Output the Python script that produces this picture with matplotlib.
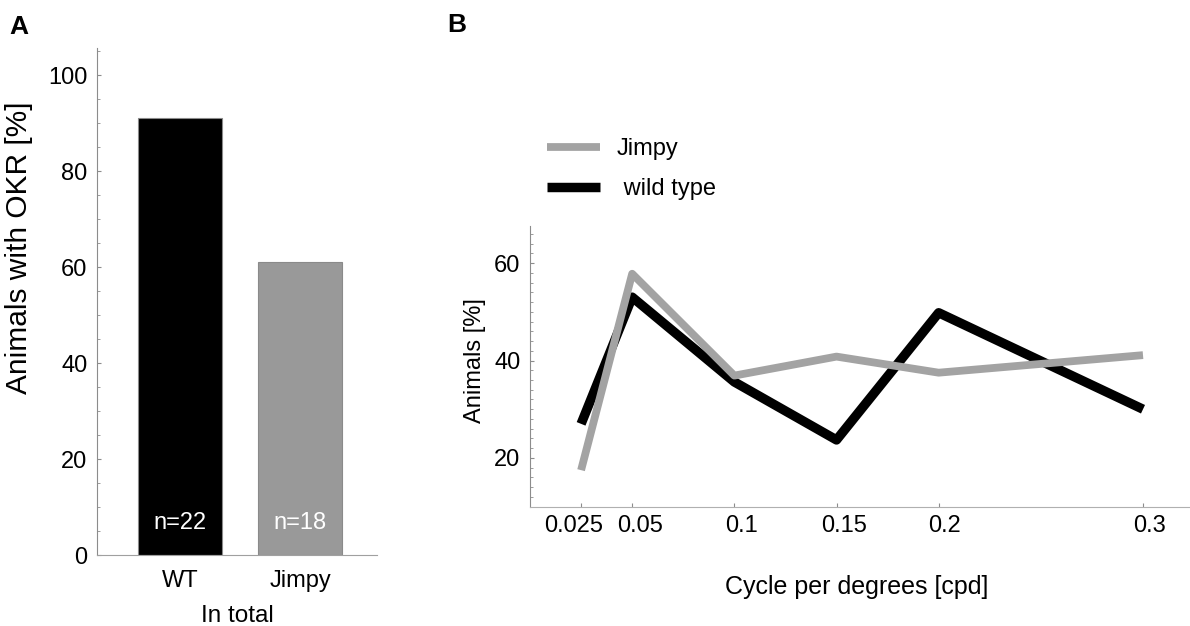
import numpy as np
import matplotlib
matplotlib.use('Agg')
import matplotlib.pyplot as plt
from matplotlib.transforms import offset_copy
from matplotlib.ticker import MultipleLocator

plt.rcParams['font.family'] = ['Liberation Sans', 'DejaVu Sans']

# panel A data
groups = ['WT', 'Jimpy']
okr_pct = [91.0, 61.1]
n_labels = ['n=22', 'n=18']
bar_colors = ['#000000', '#999999']

# panel B data
cpd = [0.025, 0.05, 0.1, 0.15, 0.2, 0.3]
cpd_labels = ['0.025', '0.05', '0.1', '0.15', '0.2', '0.3']
jimpy_pct = [17.5, 57.8, 36.9, 40.8, 37.5, 41.1]
wt_pct = [27.0, 53.0, 35.6, 23.7, 49.8, 30.0]

W, H = 1190, 626
fig = plt.figure(figsize=(W / 100, H / 100), dpi=100)

fs = 17
spine_col = '#8c8c8c'

# ---- panel A
axA = fig.add_axes([97 / W, 1 - 555 / H, (377 - 97) / W, (555 - 48.3) / H])
x = np.arange(len(groups))
axA.bar(x, okr_pct, width=0.7, color=bar_colors, edgecolor='#8a8a8a', linewidth=0.8)
for xi, lab in zip(x, n_labels):
    axA.text(xi, 6.7, lab, color='white', ha='center', va='center', fontsize=fs)
axA.set_xlim(-0.69, 1.64)
axA.set_ylim(0, 105.6)
axA.set_xticks(x)
axA.set_xticklabels(groups, fontsize=fs)
axA.set_yticks([0, 20, 40, 60, 80, 100])
axA.yaxis.set_minor_locator(MultipleLocator(5))
axA.tick_params(axis='x', length=0, pad=11)
axA.tick_params(axis='y', which='major', direction='in', length=3, color=spine_col, labelsize=fs, pad=7)
axA.tick_params(axis='y', which='minor', direction='in', length=2, color=spine_col)
for s in ['top', 'right']:
    axA.spines[s].set_visible(False)
axA.spines['left'].set_color(spine_col)
axA.spines['bottom'].set_color('#a0a0a0')
axA.set_ylabel('Animals with OKR [%]', fontsize=21.5)
axA.yaxis.set_label_coords(-0.229, 0.606)
axA.set_xlabel('In total', fontsize=17.5)
axA.xaxis.set_label_coords(0.5, -0.098)

# ---- panel B
axB = fig.add_axes([530 / W, 1 - 506.7 / H, (W - 530) / W, (506.7 - 226) / H])
l_j, = axB.plot(cpd, jimpy_pct, color='#a3a3a3', lw=5.6, solid_capstyle='butt', zorder=3)
l_w, = axB.plot(cpd, wt_pct, color='#000000', lw=6.8, solid_capstyle='butt', zorder=2)
axB.set_xlim(0, 0.323)
axB.set_ylim(10, 67.6)
axB.set_xticks(cpd)
axB.set_xticklabels([])
# tick labels sit a little off their ticks in the original (0.025 left, rest right)
shifts = [-7, 8, 7, 8, 6, 6]
for c, lab, dx in zip(cpd, cpd_labels, shifts):
    tr = offset_copy(axB.get_xaxis_transform(), fig=fig, x=dx, y=-8, units='dots')
    axB.text(c, 0, lab, transform=tr, ha='center', va='top', fontsize=fs)
axB.set_yticks([20, 40, 60])
axB.yaxis.set_minor_locator(MultipleLocator(2))
axB.tick_params(axis='x', direction='in', length=3, color=spine_col)
axB.tick_params(axis='y', which='major', direction='in', length=3, color=spine_col, labelsize=fs, pad=7)
axB.tick_params(axis='y', which='minor', direction='in', length=2, color=spine_col)
for s in ['top', 'right']:
    axB.spines[s].set_visible(False)
axB.spines['left'].set_color(spine_col)
axB.spines['bottom'].set_color('#b0b0b0')
axB.set_ylabel('Animals [%]', fontsize=fs)
axB.yaxis.set_label_coords(-0.066, 0.52)
axB.set_xlabel('Cycle per degrees [cpd]', fontsize=18)
axB.xaxis.set_label_coords(0.495, -0.245)

fig.legend([l_j, l_w], ['Jimpy', ' wild type'], loc='upper left',
           bbox_to_anchor=(547 / W, 1 - 138 / H), frameon=False, fontsize=fs,
           handlelength=2.25, handletextpad=0.7, labelspacing=0.78,
           borderpad=0, borderaxespad=0)

fig.text(19 / W, 1 - 26.5 / H, 'A', fontsize=19, fontweight='bold', ha='center', va='center')
fig.text(457 / W, 1 - 25.5 / H, 'B', fontsize=19, fontweight='bold', ha='center', va='center')

fig.savefig('out.png', dpi=100)
